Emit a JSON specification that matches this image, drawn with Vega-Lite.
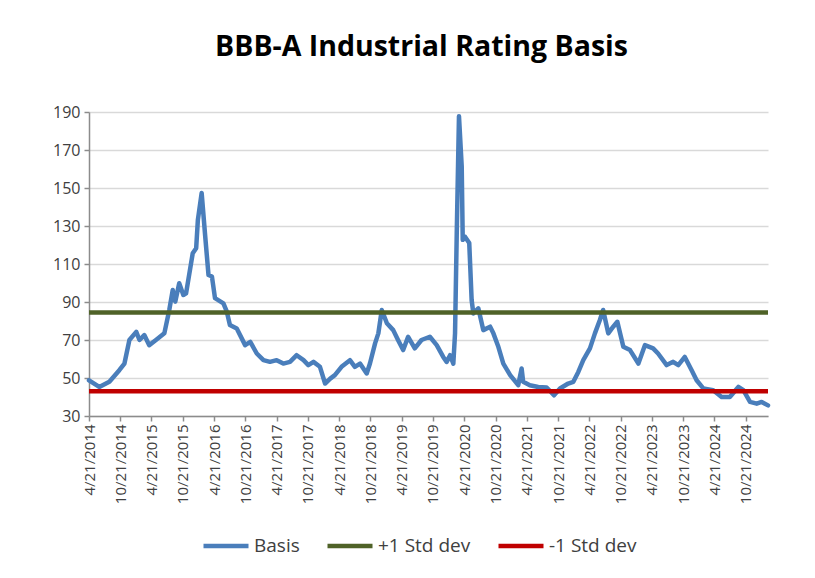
{
  "$schema": "https://vega.github.io/schema/vega-lite/v6.json",
  "autosize": {"type": "none"},
  "width": 679,
  "height": 304,
  "padding": {"left": 89, "top": 112, "right": 47, "bottom": 162},
  "background": "white",
  "title": {
    "text": "BBB-A Industrial Rating Basis",
    "fontSize": 28.5,
    "fontWeight": "bold",
    "font": "Open Sans",
    "color": "#000000",
    "anchor": "middle",
    "offset": 43,
    "dx": -7
  },
  "data": {
    "values": [
      {"d": "2014-04-21", "s": "Basis", "v": 48.8},
      {"d": "2014-06-20", "s": "Basis", "v": 45.3},
      {"d": "2014-08-18", "s": "Basis", "v": 48.0},
      {"d": "2014-10-15", "s": "Basis", "v": 54.1},
      {"d": "2014-11-14", "s": "Basis", "v": 57.6},
      {"d": "2014-12-13", "s": "Basis", "v": 70.0},
      {"d": "2015-01-22", "s": "Basis", "v": 74.3},
      {"d": "2015-02-10", "s": "Basis", "v": 70.0},
      {"d": "2015-03-10", "s": "Basis", "v": 72.6},
      {"d": "2015-04-08", "s": "Basis", "v": 67.3},
      {"d": "2015-05-17", "s": "Basis", "v": 70.0},
      {"d": "2015-07-05", "s": "Basis", "v": 73.5},
      {"d": "2015-08-03", "s": "Basis", "v": 85.8},
      {"d": "2015-08-23", "s": "Basis", "v": 96.3},
      {"d": "2015-09-07", "s": "Basis", "v": 90.2},
      {"d": "2015-09-30", "s": "Basis", "v": 99.9},
      {"d": "2015-10-24", "s": "Basis", "v": 93.7},
      {"d": "2015-11-09", "s": "Basis", "v": 94.6},
      {"d": "2015-12-18", "s": "Basis", "v": 115.7},
      {"d": "2016-01-07", "s": "Basis", "v": 118.3},
      {"d": "2016-01-17", "s": "Basis", "v": 133.3},
      {"d": "2016-02-08", "s": "Basis", "v": 147.4},
      {"d": "2016-02-28", "s": "Basis", "v": 125.4},
      {"d": "2016-03-19", "s": "Basis", "v": 104.2},
      {"d": "2016-04-08", "s": "Basis", "v": 103.4},
      {"d": "2016-04-26", "s": "Basis", "v": 92.0},
      {"d": "2016-06-14", "s": "Basis", "v": 89.3},
      {"d": "2016-07-04", "s": "Basis", "v": 84.9},
      {"d": "2016-07-22", "s": "Basis", "v": 77.9},
      {"d": "2016-08-31", "s": "Basis", "v": 76.1},
      {"d": "2016-10-19", "s": "Basis", "v": 67.3},
      {"d": "2016-11-18", "s": "Basis", "v": 69.0},
      {"d": "2016-12-26", "s": "Basis", "v": 62.9},
      {"d": "2017-02-03", "s": "Basis", "v": 59.4},
      {"d": "2017-03-13", "s": "Basis", "v": 58.5},
      {"d": "2017-04-21", "s": "Basis", "v": 59.4},
      {"d": "2017-05-30", "s": "Basis", "v": 57.6},
      {"d": "2017-07-08", "s": "Basis", "v": 58.5},
      {"d": "2017-08-16", "s": "Basis", "v": 62.0},
      {"d": "2017-09-25", "s": "Basis", "v": 59.4},
      {"d": "2017-10-23", "s": "Basis", "v": 56.8},
      {"d": "2017-11-22", "s": "Basis", "v": 58.5},
      {"d": "2017-12-30", "s": "Basis", "v": 55.9},
      {"d": "2018-01-29", "s": "Basis", "v": 47.1},
      {"d": "2018-02-28", "s": "Basis", "v": 49.7},
      {"d": "2018-03-27", "s": "Basis", "v": 51.5},
      {"d": "2018-05-05", "s": "Basis", "v": 55.9},
      {"d": "2018-06-23", "s": "Basis", "v": 59.4},
      {"d": "2018-07-22", "s": "Basis", "v": 55.9},
      {"d": "2018-08-21", "s": "Basis", "v": 57.6},
      {"d": "2018-09-29", "s": "Basis", "v": 52.4},
      {"d": "2018-10-18", "s": "Basis", "v": 57.6},
      {"d": "2018-11-17", "s": "Basis", "v": 68.2},
      {"d": "2018-12-06", "s": "Basis", "v": 73.5},
      {"d": "2018-12-26", "s": "Basis", "v": 85.8},
      {"d": "2019-01-25", "s": "Basis", "v": 78.8},
      {"d": "2019-03-03", "s": "Basis", "v": 75.2},
      {"d": "2019-03-31", "s": "Basis", "v": 70.0},
      {"d": "2019-04-30", "s": "Basis", "v": 64.7},
      {"d": "2019-05-29", "s": "Basis", "v": 71.7},
      {"d": "2019-07-07", "s": "Basis", "v": 65.6},
      {"d": "2019-08-15", "s": "Basis", "v": 70.0},
      {"d": "2019-10-03", "s": "Basis", "v": 71.7},
      {"d": "2019-11-12", "s": "Basis", "v": 67.3},
      {"d": "2019-12-20", "s": "Basis", "v": 61.1},
      {"d": "2020-01-09", "s": "Basis", "v": 58.5},
      {"d": "2020-01-29", "s": "Basis", "v": 62.0},
      {"d": "2020-02-17", "s": "Basis", "v": 57.6},
      {"d": "2020-02-27", "s": "Basis", "v": 73.5},
      {"d": "2020-03-08", "s": "Basis", "v": 126.2},
      {"d": "2020-03-21", "s": "Basis", "v": 187.8},
      {"d": "2020-04-06", "s": "Basis", "v": 161.4},
      {"d": "2020-04-12", "s": "Basis", "v": 122.7},
      {"d": "2020-04-25", "s": "Basis", "v": 124.4},
      {"d": "2020-05-20", "s": "Basis", "v": 121.0},
      {"d": "2020-06-03", "s": "Basis", "v": 91.0},
      {"d": "2020-06-13", "s": "Basis", "v": 84.0},
      {"d": "2020-07-12", "s": "Basis", "v": 86.7},
      {"d": "2020-08-10", "s": "Basis", "v": 75.2},
      {"d": "2020-09-19", "s": "Basis", "v": 77.0},
      {"d": "2020-10-08", "s": "Basis", "v": 73.5},
      {"d": "2020-11-06", "s": "Basis", "v": 66.4},
      {"d": "2020-12-05", "s": "Basis", "v": 57.6},
      {"d": "2021-01-14", "s": "Basis", "v": 51.5},
      {"d": "2021-03-02", "s": "Basis", "v": 46.2},
      {"d": "2021-03-22", "s": "Basis", "v": 55.0},
      {"d": "2021-03-31", "s": "Basis", "v": 48.0},
      {"d": "2021-05-09", "s": "Basis", "v": 46.2},
      {"d": "2021-06-27", "s": "Basis", "v": 45.3},
      {"d": "2021-08-15", "s": "Basis", "v": 45.0},
      {"d": "2021-09-27", "s": "Basis", "v": 40.9},
      {"d": "2021-11-01", "s": "Basis", "v": 44.5},
      {"d": "2021-12-19", "s": "Basis", "v": 47.1},
      {"d": "2022-01-18", "s": "Basis", "v": 48.0},
      {"d": "2022-02-16", "s": "Basis", "v": 53.2},
      {"d": "2022-03-17", "s": "Basis", "v": 59.4},
      {"d": "2022-04-25", "s": "Basis", "v": 65.6},
      {"d": "2022-05-24", "s": "Basis", "v": 73.5},
      {"d": "2022-06-22", "s": "Basis", "v": 80.5},
      {"d": "2022-07-11", "s": "Basis", "v": 85.8},
      {"d": "2022-08-10", "s": "Basis", "v": 73.5},
      {"d": "2022-09-08", "s": "Basis", "v": 77.0},
      {"d": "2022-10-02", "s": "Basis", "v": 79.6},
      {"d": "2022-11-06", "s": "Basis", "v": 66.4},
      {"d": "2022-12-15", "s": "Basis", "v": 64.7},
      {"d": "2023-02-02", "s": "Basis", "v": 57.6},
      {"d": "2023-03-12", "s": "Basis", "v": 67.3},
      {"d": "2023-04-29", "s": "Basis", "v": 65.6},
      {"d": "2023-05-28", "s": "Basis", "v": 62.9},
      {"d": "2023-07-17", "s": "Basis", "v": 56.8},
      {"d": "2023-08-24", "s": "Basis", "v": 58.5},
      {"d": "2023-09-23", "s": "Basis", "v": 56.8},
      {"d": "2023-10-31", "s": "Basis", "v": 61.1},
      {"d": "2023-12-10", "s": "Basis", "v": 54.1},
      {"d": "2024-01-08", "s": "Basis", "v": 48.8},
      {"d": "2024-02-16", "s": "Basis", "v": 44.5},
      {"d": "2024-04-14", "s": "Basis", "v": 43.6},
      {"d": "2024-06-02", "s": "Basis", "v": 40.0},
      {"d": "2024-07-20", "s": "Basis", "v": 40.0},
      {"d": "2024-09-08", "s": "Basis", "v": 45.3},
      {"d": "2024-10-07", "s": "Basis", "v": 43.6},
      {"d": "2024-11-15", "s": "Basis", "v": 37.4},
      {"d": "2024-12-24", "s": "Basis", "v": 36.5},
      {"d": "2025-01-22", "s": "Basis", "v": 37.4},
      {"d": "2025-02-28", "s": "Basis", "v": 35.6},
      {"d": "2014-04-21", "s": "+1 Std dev", "v": 84.5},
      {"d": "2025-02-28", "s": "+1 Std dev", "v": 84.5},
      {"d": "2014-04-21", "s": "-1 Std dev", "v": 43.0},
      {"d": "2025-02-28", "s": "-1 Std dev", "v": 43.0}
    ]
  },
  "encoding": {
    "x": {
      "field": "d",
      "type": "temporal",
      "scale": {"type": "utc", "domain": ["2014-04-21", "2025-02-28"], "nice": false},
      "axis": {
        "title": null,
        "grid": false,
        "values": [
          {"year": 2014, "month": 4, "date": 21, "utc": true},
          {"year": 2014, "month": 10, "date": 21, "utc": true},
          {"year": 2015, "month": 4, "date": 21, "utc": true},
          {"year": 2015, "month": 10, "date": 21, "utc": true},
          {"year": 2016, "month": 4, "date": 21, "utc": true},
          {"year": 2016, "month": 10, "date": 21, "utc": true},
          {"year": 2017, "month": 4, "date": 21, "utc": true},
          {"year": 2017, "month": 10, "date": 21, "utc": true},
          {"year": 2018, "month": 4, "date": 21, "utc": true},
          {"year": 2018, "month": 10, "date": 21, "utc": true},
          {"year": 2019, "month": 4, "date": 21, "utc": true},
          {"year": 2019, "month": 10, "date": 21, "utc": true},
          {"year": 2020, "month": 4, "date": 21, "utc": true},
          {"year": 2020, "month": 10, "date": 21, "utc": true},
          {"year": 2021, "month": 4, "date": 21, "utc": true},
          {"year": 2021, "month": 10, "date": 21, "utc": true},
          {"year": 2022, "month": 4, "date": 21, "utc": true},
          {"year": 2022, "month": 10, "date": 21, "utc": true},
          {"year": 2023, "month": 4, "date": 21, "utc": true},
          {"year": 2023, "month": 10, "date": 21, "utc": true},
          {"year": 2024, "month": 4, "date": 21, "utc": true},
          {"year": 2024, "month": 10, "date": 21, "utc": true}
        ],
        "labelExpr": "utcFormat(datum.value, '%-m/%-d/%Y')",
        "labelAngle": -90,
        "labelFontSize": 15,
        "labelFont": "Open Sans",
        "labelColor": "#404040",
        "labelPadding": 3,
        "labelOverlap": false,
        "labelFlush": false,
        "domainColor": "#8c8c8c",
        "domainWidth": 1.5,
        "tickColor": "#8c8c8c",
        "tickWidth": 1.5,
        "tickSize": 5
      }
    },
    "y": {
      "field": "v",
      "type": "quantitative",
      "scale": {"domain": [30, 190], "nice": false, "zero": false},
      "axis": {
        "title": null,
        "values": [30, 50, 70, 90, 110, 130, 150, 170, 190],
        "grid": true,
        "gridColor": "#d9d9d9",
        "gridWidth": 1.5,
        "labelFontSize": 16,
        "labelFont": "Open Sans",
        "labelColor": "#404040",
        "labelPadding": 4,
        "domainColor": "#8c8c8c",
        "domainWidth": 1.5,
        "tickColor": "#8c8c8c",
        "tickWidth": 1.5,
        "tickSize": 5
      }
    },
    "color": {
      "field": "s",
      "type": "nominal",
      "scale": {
        "domain": ["Basis", "+1 Std dev", "-1 Std dev"],
        "range": ["#4a7ebb", "#4f6228", "#c00000"]
      },
      "legend": {
        "title": null,
        "orient": "none",
        "legendX": 112,
        "legendY": 409,
        "direction": "horizontal",
        "symbolType": "stroke",
        "symbolSize": 2025,
        "symbolStrokeWidth": 4.5,
        "labelFontSize": 19,
        "labelFont": "Open Sans",
        "labelColor": "#404040",
        "labelOffset": 3,
        "columnPadding": 18
      }
    }
  },
  "layer": [
    {
      "transform": [{"filter": "datum.s === 'Basis'"}],
      "mark": {"type": "line", "strokeWidth": 4.5, "strokeJoin": "round", "strokeCap": "round"}
    },
    {
      "transform": [{"filter": "datum.s !== 'Basis'"}],
      "mark": {"type": "line", "strokeWidth": 4.5}
    }
  ],
  "config": {
    "view": {"stroke": null},
    "font": "Open Sans"
  }
}
